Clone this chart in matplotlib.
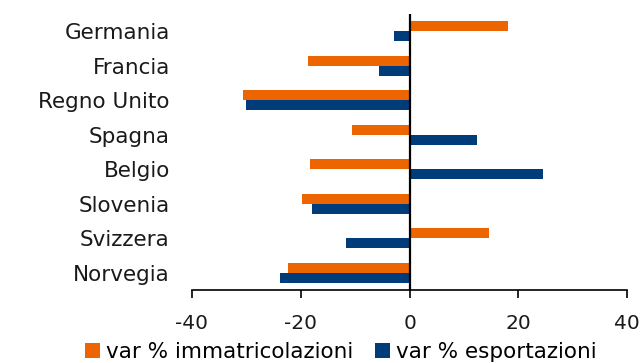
import matplotlib
matplotlib.use("Agg")
import matplotlib.pyplot as plt
import numpy as np

paesi = ["Germania", "Francia", "Regno Unito", "Spagna",
         "Belgio", "Slovenia", "Svizzera", "Norvegia"]
var_immatricolazioni = [18.0, -18.7, -30.6, -10.5, -18.3, -19.8, 14.6, -22.4]
var_esportazioni = [-2.8, -5.7, -30.1, 12.4, 24.6, -18.0, -11.6, -23.9]
x_ticks = [-40, -20, 0, 20, 40]

ARANCIO = "#EC6500"
BLU = "#003B7A"

plt.rcParams["font.family"] = "DejaVu Sans"

fig = plt.figure(figsize=(6.43, 3.63), dpi=100)
ax = fig.add_axes([0.2986, 0.2011, 0.6768, 0.7603])

y = np.arange(len(paesi))
h = 0.29
ax.barh(y - h / 2, var_immatricolazioni, height=h, color=ARANCIO,
        label="var % immatricolazioni")
ax.barh(y + h / 2, var_esportazioni, height=h, color=BLU,
        label="var % esportazioni")

ax.set_ylim(len(paesi) - 0.5, -0.5)
ax.set_xlim(-40, 40)
ax.axvline(0, color="black", linewidth=1.6, zorder=3)

ax.set_yticks(y)
ax.set_yticklabels(paesi, fontsize=15.5, color="#1a1a1a")
ax.tick_params(axis="y", length=0, pad=16)

ax.set_xticks(x_ticks)
ax.set_xticklabels([str(t) for t in x_ticks], fontsize=14.5, color="#1a1a1a")
ax.tick_params(axis="x", direction="out", length=6, width=1.2, pad=11)

for s in ["left", "right", "top"]:
    ax.spines[s].set_visible(False)
ax.spines["bottom"].set_linewidth(1.2)

fig.legend(loc="lower center", bbox_to_anchor=(0.53, -0.05), ncol=2,
           frameon=False, fontsize=15.5, handlelength=0.7, handleheight=0.7,
           handletextpad=0.3, columnspacing=1.0)

fig.savefig("out.png", dpi=100)
